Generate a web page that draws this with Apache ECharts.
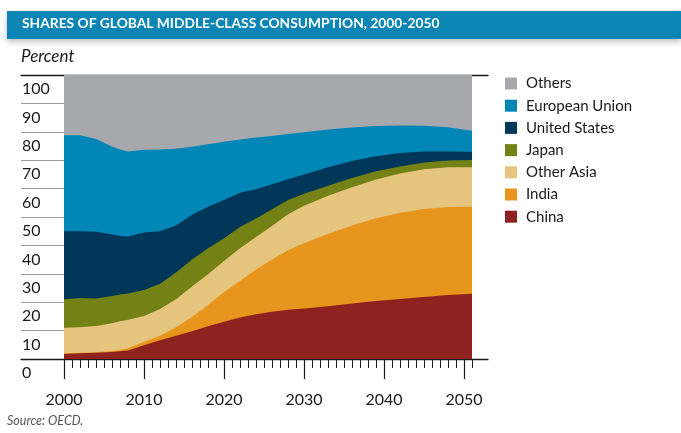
<!DOCTYPE html>
<html>
<head>
<meta charset="utf-8">
<script src="https://cdn.jsdelivr.net/npm/echarts@6/dist/echarts.min.js"></script>
<style>
  html, body { margin: 0; padding: 0; background: #fff; }
  #chart { width: 681px; height: 433px; }
</style>
</head>
<body>
<div id="chart"></div>
<script>
// shares of global middle-class consumption, percent
const years = [2000, 2002, 2004, 2006, 2007, 2008, 2010, 2012, 2014, 2016, 2018, 2020, 2022, 2024, 2026, 2028, 2030, 2033, 2036, 2039, 2042, 2045, 2048, 2051];
const china = [1.8, 2.0, 2.2, 2.5, 2.7, 3.0, 4.8, 6.6, 8.2, 9.8, 11.5, 13.1, 14.6, 15.8, 16.6, 17.3, 17.8, 18.6, 19.5, 20.4, 21.1, 21.8, 22.5, 23.0];
const india = [0.2, 0.2, 0.2, 0.3, 0.5, 0.8, 1.3, 1.6, 3.0, 5.0, 7.5, 10.4, 12.9, 15.7, 18.4, 21.0, 23.0, 25.4, 27.5, 29.2, 30.4, 31.0, 31.0, 30.6];
const otherAsia = [9.0, 9.0, 9.2, 9.8, 10.1, 10.0, 9.0, 9.4, 9.8, 10.7, 10.8, 11.0, 11.5, 11.5, 11.8, 12.7, 13.2, 13.5, 13.5, 13.6, 13.8, 14.0, 14.0, 13.9];
const japan = [10.0, 10.3, 9.7, 9.6, 9.4, 9.3, 9.2, 8.9, 9.5, 9.5, 9.2, 8.0, 7.5, 6.5, 5.9, 5.0, 4.2, 3.5, 3.2, 2.9, 2.5, 2.4, 2.4, 2.6];
const unitedStates = [24.0, 23.5, 23.5, 21.6, 20.6, 20.0, 20.2, 18.5, 16.5, 15.8, 14.6, 13.5, 12.0, 10.3, 8.8, 7.3, 6.8, 6.5, 6.0, 5.3, 4.7, 3.9, 3.2, 2.9];
const europeanUnion = [33.8, 33.8, 32.7, 31.0, 30.5, 30.0, 29.2, 28.8, 27.0, 23.9, 22.0, 20.5, 18.8, 18.2, 17.0, 15.9, 14.8, 13.3, 11.8, 10.6, 9.7, 9.0, 8.5, 7.4];
const others = [21.2, 21.2, 22.5, 25.2, 26.2, 26.9, 26.3, 26.2, 26.0, 25.3, 24.4, 23.5, 22.7, 22.0, 21.5, 20.8, 20.2, 19.2, 18.5, 18.0, 17.8, 17.9, 18.4, 19.6];

const decadeLabels = [2000, 2010, 2020, 2030, 2040, 2050];
const firstTickYear = 2000;
const lastTickYear = 2051;

const font = 'Lato, "Noto Sans", sans-serif';
const ink = '#1a1a1a';

// bottom of the stack first
const layers = [
    { name: 'China', values: china, color: '#8e221e' },
    { name: 'India', values: india, color: '#e8951d' },
    { name: 'Other Asia', values: otherAsia, color: '#e6c57f' },
    { name: 'Japan', values: japan, color: '#738115' },
    { name: 'United States', values: unitedStates, color: '#003657' },
    { name: 'European Union', values: europeanUnion, color: '#0086b7' },
    { name: 'Others', values: others, color: '#a7a8ab' }
];

// running totals, so each layer is painted from 0 up to its stacked top;
// the topmost layer is painted first and the lower ones cover it
const running = years.map(() => 0);
layers.forEach(l => {
    l.top = l.values.map((v, i) => (running[i] = +(running[i] + v).toFixed(2)));
});

const yearTicks = [];
for (let y = firstTickYear; y <= lastTickYear; y++) yearTicks.push(y);

const chart = echarts.init(document.getElementById('chart'));

chart.setOption({
    animation: false,
    graphic: [
        {
            type: 'rect',
            z: 0,
            shape: { x: 7, y: 11, width: 674, height: 28 },
            style: {
                fill: '#0a85b6',
                shadowBlur: 6,
                shadowOffsetY: 3,
                shadowColor: 'rgba(0,0,0,0.25)'
            }
        }
    ],
    title: [
        {
            text: 'SHARES OF GLOBAL MIDDLE-CLASS CONSUMPTION, 2000-2050',
            left: 22,
            top: 17,
            padding: 0,
            z: 10,
            textStyle: { color: '#fff', fontSize: 13.8, fontWeight: 'bold', fontFamily: font }
        },
        {
            text: 'Percent',
            left: 21,
            top: 48,
            padding: 0,
            textStyle: { color: ink, fontSize: 17, fontStyle: 'italic', fontWeight: 'normal', fontFamily: font }
        },
        {
            text: 'Source: OECD.',
            left: 7,
            top: 414,
            padding: 0,
            textStyle: { color: '#555', fontSize: 12.5, fontStyle: 'italic', fontWeight: 'normal', fontFamily: font }
        }
    ],
    legend: {
        orient: 'vertical',
        left: 505,
        top: 76,
        padding: 0,
        icon: 'rect',
        itemWidth: 12,
        itemHeight: 12,
        itemGap: 7.2,
        data: layers.map(l => l.name).reverse(),
        textStyle: { color: ink, fontSize: 15, fontFamily: font, padding: [0, 0, 0, 4] }
    },
    grid: [
        // stub left of the plot that carries the labels and grey gridlines
        { left: 21, top: 75, width: 43, height: 284 },
        // plot area
        { left: 64, top: 75, width: 424, height: 284 }
    ],
    xAxis: [
        {
            gridIndex: 0, type: 'value', min: 0, max: 1, position: 'bottom',
            axisLine: { show: true, lineStyle: { color: ink, width: 1.3 } },
            axisTick: { show: false }, axisLabel: { show: false }, splitLine: { show: false }
        },
        {
            gridIndex: 0, type: 'value', min: 0, max: 1, position: 'top',
            axisLine: { show: true, lineStyle: { color: ink, width: 1.3 } },
            axisTick: { show: false }, axisLabel: { show: false }, splitLine: { show: false }
        },
        {
            gridIndex: 1, type: 'value', min: 2000, max: 2053, position: 'bottom',
            axisLine: { show: true, lineStyle: { color: ink, width: 1.3 } },
            axisTick: { show: true, customValues: yearTicks, length: 9, lineStyle: { color: ink, width: 1 } },
            axisLabel: { show: false },
            splitLine: { show: false }
        },
        {
            gridIndex: 1, type: 'value', min: 2000, max: 2053, position: 'bottom',
            axisLine: { show: false },
            axisTick: { show: true, customValues: decadeLabels, length: 20, lineStyle: { color: ink, width: 1.2 } },
            axisLabel: {
                show: true, customValues: decadeLabels, margin: 33,
                color: ink, fontSize: 16, fontFamily: font,
                formatter: v => String(v)
            },
            splitLine: { show: false }
        },
        {
            gridIndex: 1, type: 'value', min: 2000, max: 2053, position: 'top',
            axisLine: { show: true, lineStyle: { color: ink, width: 1.3 } },
            axisTick: { show: false }, axisLabel: { show: false }, splitLine: { show: false }
        }
    ],
    yAxis: [
        {
            gridIndex: 0, type: 'value', min: 0, max: 100, interval: 10,
            axisLine: { show: false }, axisTick: { show: false },
            splitLine: { show: true, lineStyle: { color: '#9a9a9a', width: 1 } },
            axisLabel: {
                align: 'left', margin: -1, verticalAlign: 'top', lineHeight: 28,
                color: ink, fontSize: 16, fontFamily: font
            }
        },
        {
            gridIndex: 1, type: 'value', min: 0, max: 100,
            show: false
        }
    ],
    series: layers.slice().reverse().map(l => ({
        name: l.name,
        type: 'line',
        xAxisIndex: 2,
        yAxisIndex: 1,
        symbol: 'none',
        lineStyle: { width: 0 },
        itemStyle: { color: l.color },
        areaStyle: { color: l.color, opacity: 1, origin: 'start' },
        data: years.map((y, i) => [y, l.top[i]])
    }))
});
</script>
</body>
</html>
